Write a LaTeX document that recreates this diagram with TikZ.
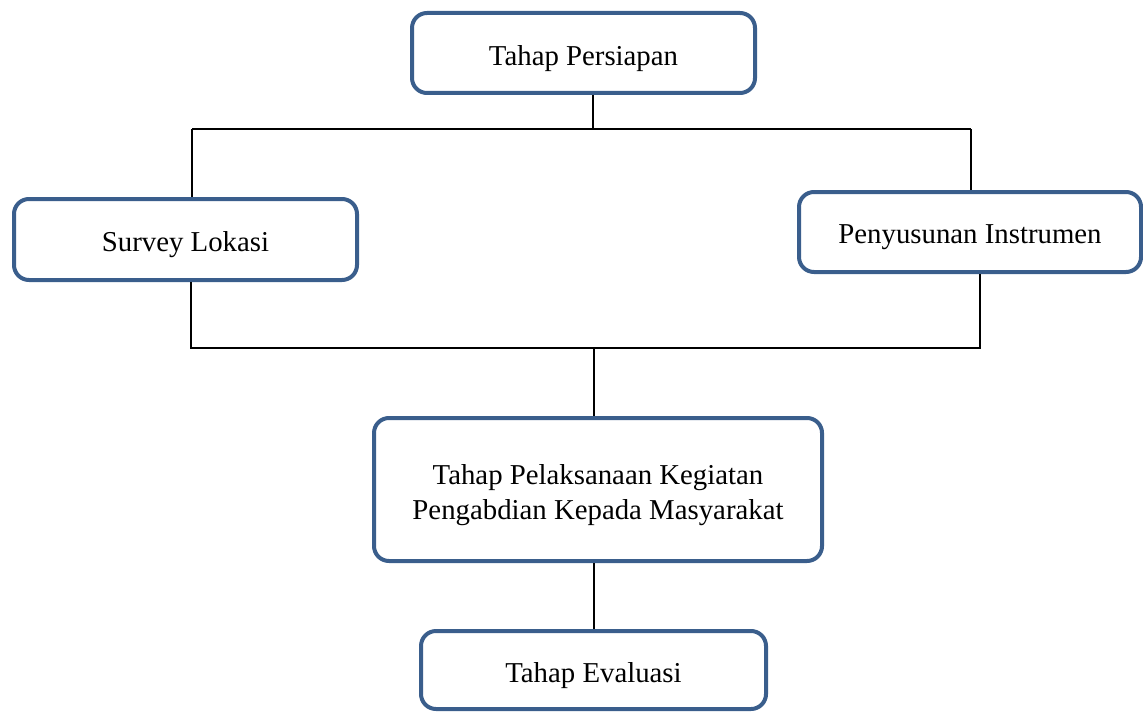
\documentclass[tikz,border=0pt]{standalone}
\usepackage{fontspec}
\setmainfont{Liberation Serif}
\definecolor{boxblue}{RGB}{58,94,140}
\newcommand\lowtext[1]{\raisebox{-2.8pt}[\height][\depth]{#1}}
\begin{document}
\begin{tikzpicture}[x=0.5pt,y=-0.5pt,
  stage/.style={draw=boxblue,line width=2pt,rounded corners=7.5pt,fill=white,
    align=center,inner sep=0pt,font=\fontsize{14.4}{17.2}\selectfont},
  link/.style={draw=black,line width=0.7pt}]
\useasboundingbox (0,0) rectangle (1143,711);
\node[stage,minimum width=171.5pt,minimum height=40pt] (prep) at (583.5,53) {\lowtext{Tahap Persiapan}};
\node[stage,minimum width=171.5pt,minimum height=40.5pt] (survey) at (185.5,239.5) {\lowtext{Survey Lokasi}};
\node[stage,minimum width=171pt,minimum height=40pt] (instr) at (970,232) {\lowtext{Penyusunan Instrumen}};
\node[stage,minimum width=224pt,minimum height=71.5pt] (exec) at (598,489.5) {\lowtext{Tahap Pelaksanaan Kegiatan}\\\lowtext{Pengabdian Kepada Masyarakat}};
\node[stage,minimum width=172.5pt,minimum height=39pt] (eval) at (593.5,670) {\lowtext{Tahap Evaluasi}};
% top split
\coordinate (t1) at (593,129);
\coordinate (tl) at (192,129);
\coordinate (tr) at (971,129);
\draw[link] (prep.south -| t1) -- (t1);
\draw[link] (tl) -- (tr);
\draw[link] (tl) -- (survey.north -| tl);
\draw[link] (tr) -- (instr.north -| tr);
% bottom merge
\coordinate (bl) at (191,348);
\coordinate (br) at (980,348);
\coordinate (bm) at (594,348);
\draw[link] (survey.south -| bl) -- (bl) -- (br) -- (instr.south -| br);
\draw[link] (bm) -- (exec.north -| bm);
\draw[link] (exec.south -| bm) -- (eval.north -| bm);
\end{tikzpicture}
\end{document}
